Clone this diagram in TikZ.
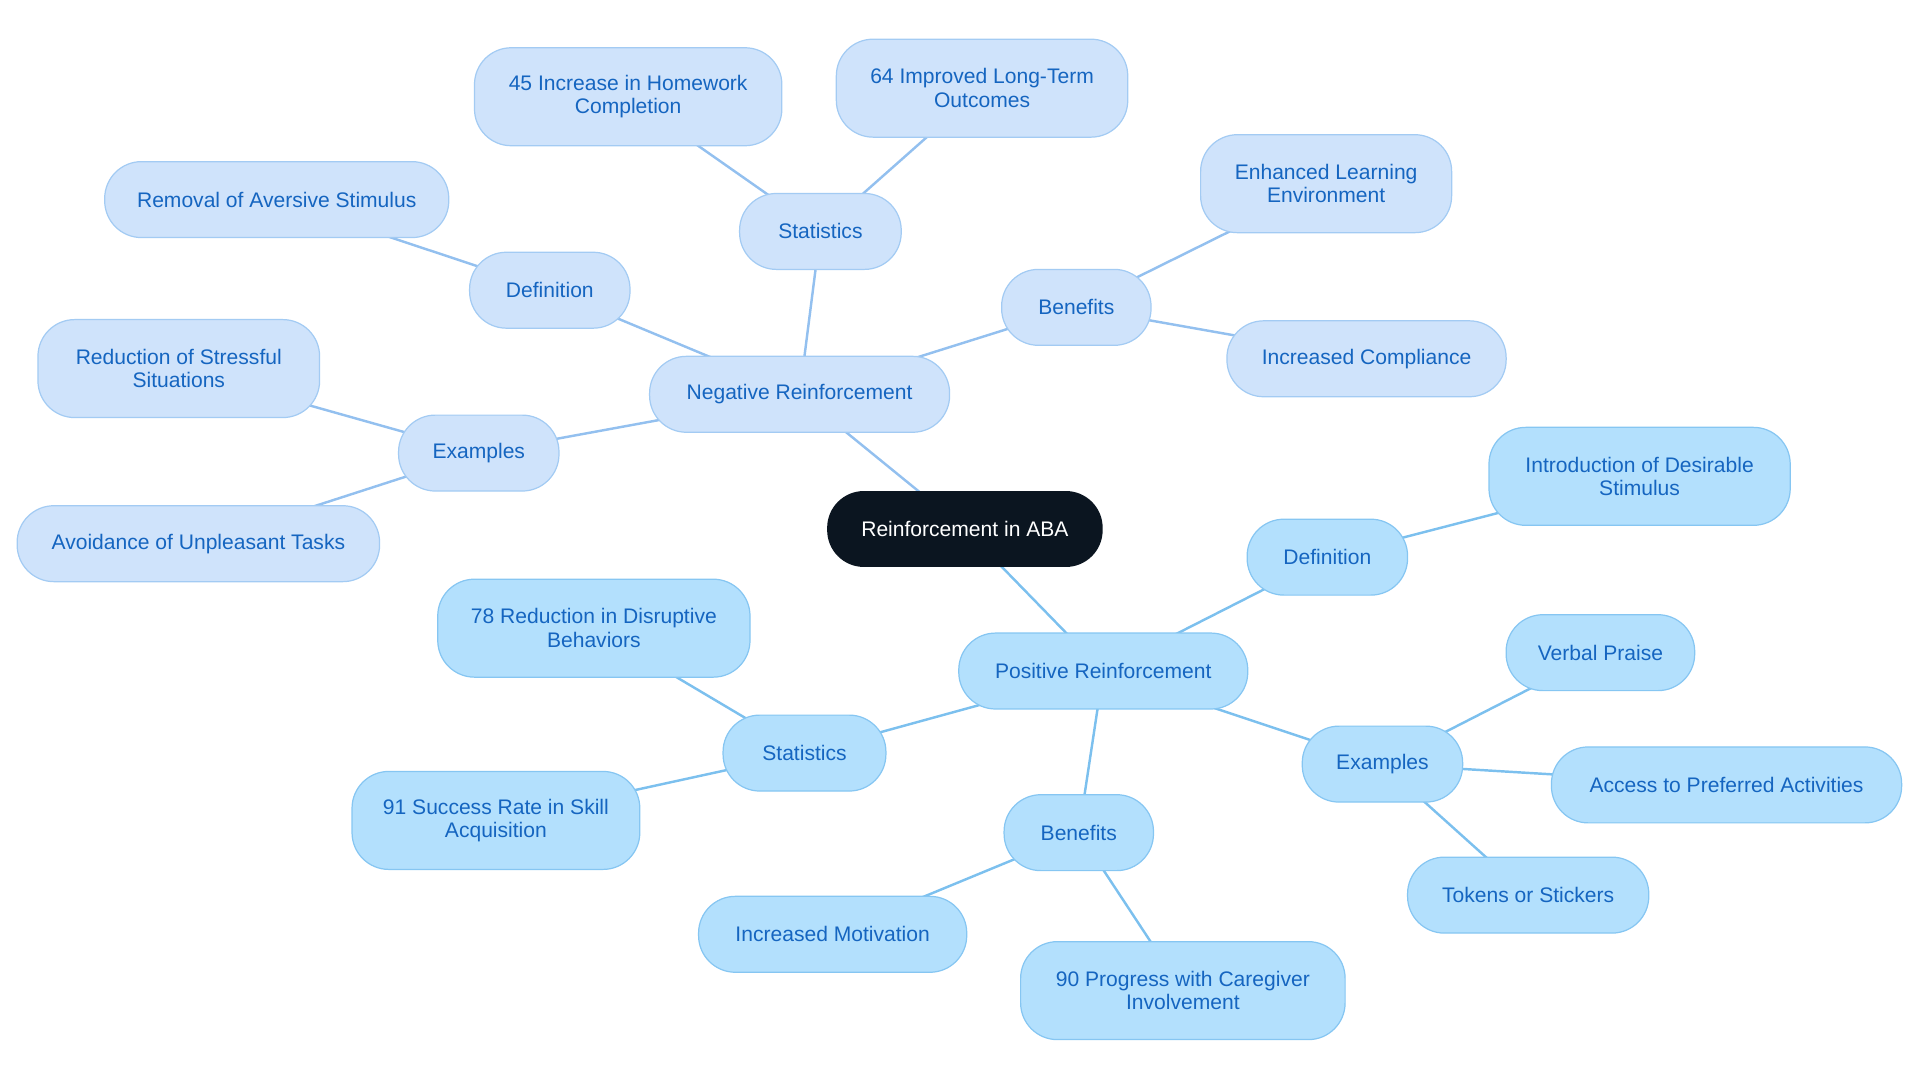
\documentclass[tikz,border=0pt]{standalone}
\usepackage{fontspec}
\setmainfont{Liberation Sans}
\pgfdeclarelayer{bg}\pgfsetlayers{bg,main}
\definecolor{negfill}{HTML}{CFE3FB}
\definecolor{negdraw}{HTML}{A3CBF3}
\definecolor{posfill}{HTML}{B3E0FD}
\definecolor{posdraw}{HTML}{86C6F2}
\definecolor{txt}{HTML}{1565C0}
\definecolor{negline}{HTML}{93C0EF}
\definecolor{posline}{HTML}{7CC0EE}
\definecolor{rootfill}{HTML}{0B1520}
\tikzset{
 box/.style={rounded corners=15pt,font=\fontsize{8.6}{9.6}\selectfont,text=txt,align=center,inner sep=0pt,line width=0.5pt},
 negbox/.style={box,fill=negfill,draw=negdraw},
 posbox/.style={box,fill=posfill,draw=posdraw},
 nl/.style={draw=negline,line width=1pt},
 pl/.style={draw=posline,line width=1pt},
}
\newcommand{\bx}[6]{\node[#1,minimum width=#4*0.5pt,minimum height=#5*0.5pt] (#2) at (#3) {#6};}
\begin{document}
\begin{tikzpicture}[x=0.5pt,y=-0.5pt]
\useasboundingbox (0,0) rectangle (1568,884.5);
\node[box,fill=rootfill,text=white,minimum width=112.5pt,minimum height=31pt] (root) at (788,432) {Reinforcement in ABA};
\bx{negbox}{neg}{653,322}{245}{62}{Negative Reinforcement}
\bx{negbox}{nstat}{670,189}{132}{62}{Statistics}
\bx{negbox}{n45}{513,79}{251}{80}{45 Increase in Homework\\Completion}
\bx{negbox}{n64}{802,72}{238}{80}{64 Improved Long-Term\\Outcomes}
\bx{negbox}{ndef}{449,237}{131}{62}{Definition}
\bx{negbox}{nrem}{226,163}{281}{62}{Removal of Aversive Stimulus}
\bx{negbox}{nex}{391,370}{131}{62}{Examples}
\bx{negbox}{nred}{146,301}{230}{80}{Reduction of Stressful\\Situations}
\bx{negbox}{navo}{162,444}{296}{62}{Avoidance of Unpleasant Tasks}
\bx{negbox}{nben}{879,251}{122}{62}{Benefits}
\bx{negbox}{nenh}{1083,150}{205}{80}{Enhanced Learning\\Environment}
\bx{negbox}{ncom}{1116,293}{228}{62}{Increased Compliance}
\bx{posbox}{pos}{901,548}{236}{62}{Positive Reinforcement}
\bx{posbox}{pdef}{1084,455}{131}{62}{Definition}
\bx{posbox}{pint}{1339,389}{246}{80}{Introduction of Desirable\\Stimulus}
\bx{posbox}{pex}{1129,624}{131}{62}{Examples}
\bx{posbox}{pver}{1307,533}{154}{62}{Verbal Praise}
\bx{posbox}{pacc}{1410,641}{286}{62}{Access to Preferred Activities}
\bx{posbox}{ptok}{1248,731}{197}{62}{Tokens or Stickers}
\bx{posbox}{pben}{881,680}{122}{62}{Benefits}
\bx{posbox}{pmot}{680,763}{219}{62}{Increased Motivation}
\bx{posbox}{p90}{966,809}{265}{80}{90 Progress with Caregiver\\Involvement}
\bx{posbox}{pstat}{657,615}{133}{62}{Statistics}
\bx{posbox}{p78}{485,513}{255}{80}{78 Reduction in Disruptive\\Behaviors}
\bx{posbox}{p91}{405,670}{235}{80}{91 Success Rate in Skill\\Acquisition}
\begin{pgfonlayer}{bg}
\draw[nl] (root.center)--(neg.center);
\draw[nl] (neg.center)--(nstat.center) (nstat.center)--(n45.center) (nstat.center)--(n64.center);
\draw[nl] (neg.center)--(ndef.center) (ndef.center)--(nrem.center);
\draw[nl] (neg.center)--(nex.center) (nex.center)--(nred.center) (nex.center)--(navo.center);
\draw[nl] (neg.center)--(nben.center) (nben.center)--(nenh.center) (nben.center)--(ncom.center);
\draw[pl] (root.center)--(pos.center);
\draw[pl] (pos.center)--(pdef.center) (pdef.center)--(pint.center);
\draw[pl] (pos.center)--(pex.center) (pex.center)--(pver.center) (pex.center)--(pacc.center) (pex.center)--(ptok.center);
\draw[pl] (pos.center)--(pben.center) (pben.center)--(pmot.center) (pben.center)--(p90.center);
\draw[pl] (pos.center)--(pstat.center) (pstat.center)--(p78.center) (pstat.center)--(p91.center);
\end{pgfonlayer}
\end{tikzpicture}
\end{document}
